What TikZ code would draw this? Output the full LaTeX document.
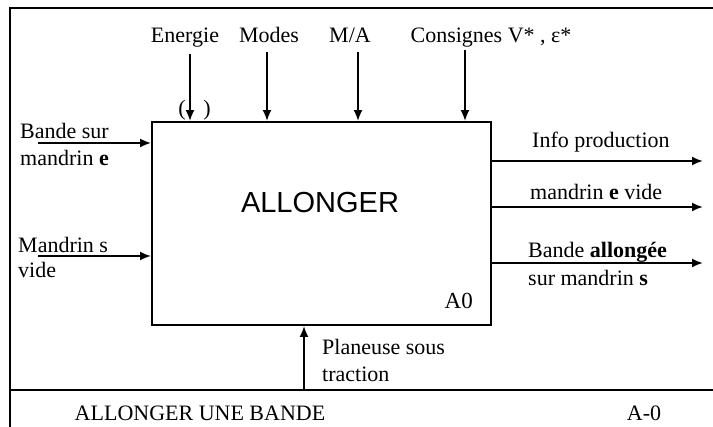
\documentclass[tikz,border=0pt]{standalone}
\usepackage{fontspec}
\setmainfont{Liberation Serif}
\newfontfamily\arialfont{Liberation Sans}
\usetikzlibrary{arrows.meta}
\begin{document}
\begin{tikzpicture}[x=1pt,y=-1pt,
  lbl/.style={inner sep=0pt, font=\fontsize{22}{27}\selectfont},
  arr/.style={line width=1.9pt, -{Latex[length=11pt,width=9pt]}},
  frame/.style={line width=2.2pt},
  fbox/.style={draw, line width=1.9pt, minimum width=339pt, minimum height=203pt, inner sep=0pt}]
\useasboundingbox (0,0) rectangle (713,427);
% outer frame
\coordinate (ftl) at (10,8);
\coordinate (ftr) at (713,8);
\coordinate (fbl) at (10,427);
\coordinate (fsl) at (10,390);
\coordinate (fsr) at (713,390);
\draw[frame] (fbl) -- (ftl) -- (ftr);
\draw[frame] (fsl) -- (fsr);
% main box
\node[fbox] (box) at (321.5,223.5) {};
\node[inner sep=0pt, anchor=base, font=\arialfont\fontsize{29}{32}\selectfont] (title) at (320,213) {ALLONGER};
\node[lbl, anchor=base east, font=\fontsize{23}{27}\selectfont] (a0) at (473,309) {A0};
% top labels
\node[lbl, anchor=base] (energie) at (185,43) {Energie};
\node[lbl, anchor=base] (modes) at (269,43) {Modes};
\node[lbl, anchor=base] (ma) at (350,43) {M/A};
\node[lbl, anchor=base] (cons) at (491,43) {Consignes V* , ε*};
\coordinate (c1) at (190,54);
\coordinate (c2) at (267,52);
\coordinate (c3) at (358,52);
\coordinate (c4) at (465,50);
\draw[arr] (c1) -- (c1 |- box.north);
\draw[arr] (c2) -- (c2 |- box.north);
\draw[arr] (c3) -- (c3 |- box.north);
\draw[arr] (c4) -- (c4 |- box.north);
\node[lbl, anchor=base] (pl) at (182,116) {(};
\node[lbl, anchor=base] (pr) at (207,116) {)};
% left inputs
\node[lbl, anchor=base west] (in1a) at (20,139) {Bande sur};
\node[lbl, anchor=base west] (in1b) at (20,166) {mandrin \textbf{e}};
\node[lbl, anchor=base west] (in2a) at (18,253) {Mandrin s};
\node[lbl, anchor=base west] (in2b) at (18,278) {vide};
\coordinate (i1) at (38,143);
\coordinate (i2) at (38,256);
\draw[arr] (i1) -- (i1 -| box.west);
\draw[arr] (i2) -- (i2 -| box.west);
% right outputs
\node[lbl, anchor=base west] (out1) at (532,148) {Info production};
\node[lbl, anchor=base west] (out2) at (530,200) {mandrin \textbf{e} vide};
\node[lbl, anchor=base west] (out3a) at (528,258) {Bande \textbf{allongée}};
\node[lbl, anchor=base west] (out3b) at (528,286) {sur mandrin \textbf{s}};
\coordinate (o1) at (703,161);
\coordinate (o2) at (703,207);
\coordinate (o3) at (703,263);
\draw[arr] (o1 -| box.east) -- (o1);
\draw[arr] (o2 -| box.east) -- (o2);
\draw[arr] (o3 -| box.east) -- (o3);
% mechanism
\node[lbl, anchor=base west] (mec1) at (322,355) {Planeuse sous};
\node[lbl, anchor=base west] (mec2) at (322,382) {traction};
\coordinate (m1) at (304,390);
\draw[arr] (m1) -- (m1 |- box.south);
% footer
\node[lbl, anchor=base] (foot) at (200,421) {ALLONGER UNE BANDE};
\node[lbl, anchor=base] (num) at (644,421) {A-0};
\end{tikzpicture}
\end{document}
